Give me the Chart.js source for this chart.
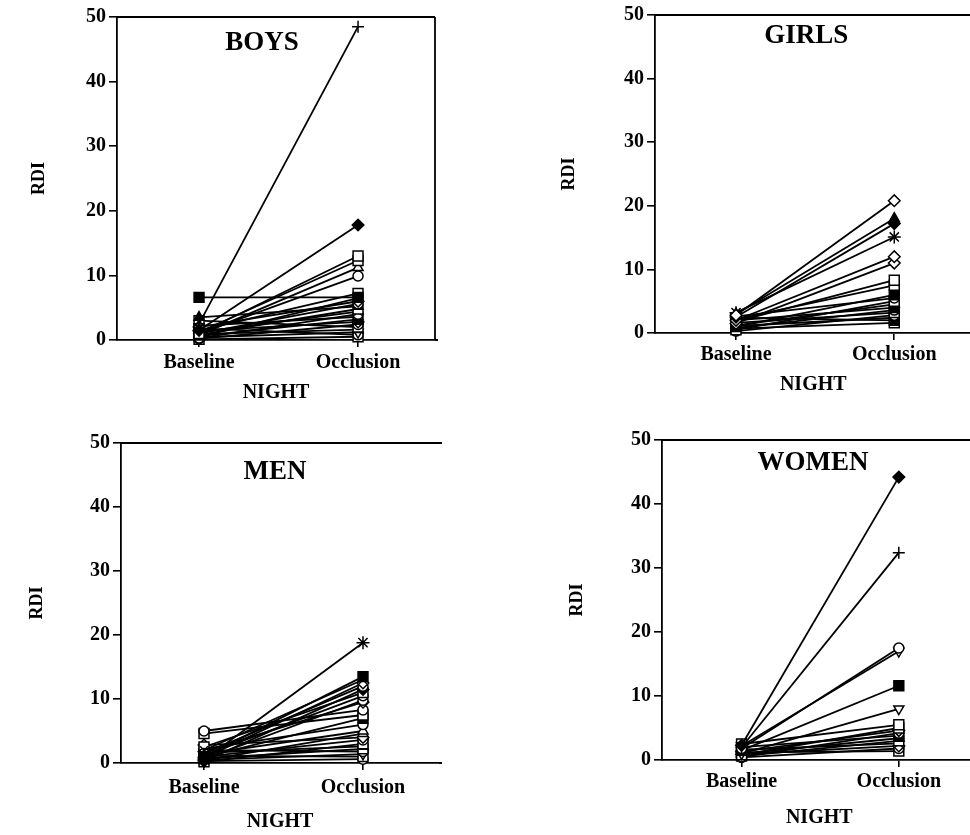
<!DOCTYPE html>
<html>
<head>
<meta charset="utf-8">
<script src="https://cdn.jsdelivr.net/npm/chart.js@4.4.0/dist/chart.umd.min.js"></script>
<style>
html,body{margin:0;padding:0;background:#fff;overflow:hidden;width:970px;height:835px;position:relative;}
.panel{position:absolute;}
canvas{display:block;}
</style>
</head>
<body>
<div class="panel" style="left:0px;top:0px;"><canvas id="c0" width="450" height="410"></canvas></div>
<div class="panel" style="left:530px;top:0px;"><canvas id="c1" width="450" height="410"></canvas></div>
<div class="panel" style="left:0px;top:425px;"><canvas id="c2" width="450" height="410"></canvas></div>
<div class="panel" style="left:530px;top:425px;"><canvas id="c3" width="455" height="410"></canvas></div>
<script>
// ---------- DATA ----------
const nightLabels = ['Baseline', 'Occlusion'];
const nightPositions = [0, 1];
const rdiTicks = [0, 10, 20, 30, 40, 50];
const panelTitles = ['BOYS', 'GIRLS', 'MEN', 'WOMEN'];
const axisTitleX = 'NIGHT';
const axisTitleY = 'RDI';

const boysBaseline  = [2.5, 1.5, 1.0, 1.2, 0.8, 1.0, 6.6, 1.5, 0.5, 2.0, 1.0, 3.5, 0.8, 1.2, 0.3, 2.2, 0.6, 1.4, 0.2, 3.0, 0.9, 0.4, 1.8, 0.1];
const boysOcclusion = [48.5, 17.8, 13.0, 12.3, 11.2, 9.9, 6.6, 7.2, 6.5, 6.0, 5.6, 5.2, 4.8, 4.4, 4.0, 3.6, 3.2, 2.8, 2.4, 2.0, 1.6, 1.2, 0.8, 0.5];
const boysMarkers   = ['+', 'D', 's', 's', 't', 'o', 'S', 's', 'T', 'd', 'o', 'T', 's', 'x', 'o', 't', 'S', 'd', 'o', 's', 't', 'v', 'o', 's'];

const girlsBaseline  = [2.8, 3.0, 2.5, 3.2, 2.0, 1.5, 1.8, 2.2, 1.0, 2.6, 0.5, 1.2, 2.0, 0.8, 1.6, 0.3, 1.1, 2.4, 0.7];
const girlsOcclusion = [20.8, 18.0, 17.2, 15.1, 12.0, 11.0, 8.3, 7.5, 6.0, 5.5, 5.0, 4.5, 4.0, 3.6, 3.2, 2.8, 2.4, 2.0, 1.6];
const girlsMarkers   = ['d', 'T', 'D', '*', 'd', 'd', 's', 's', 'S', 'o', 's', 't', 'S', 'o', 's', 'o', 'x', 'S', 's'];

const menBaseline  = [0.5, 1.0, 2.0, 0.8, 1.5, 0.3, 2.5, 1.2, 0.6, 1.8, 5.0, 4.6, 0.9, 2.2, 1.4, 0.4, 2.8, 1.0, 0.2, 1.6, 0.7, 2.0, 0.5, 1.1, 0.3];
const menOcclusion = [18.8, 13.5, 13.0, 12.5, 12.0, 11.5, 11.0, 10.5, 9.8, 9.5, 8.3, 7.5, 7.0, 6.0, 5.0, 4.6, 4.0, 3.6, 3.0, 2.6, 2.2, 1.8, 1.4, 1.0, 0.6];
const menMarkers   = ['*', 'S', 'x', 'd', 'o', 'D', 's', 'o', 'o', 'd', 'o', 's', 'S', 'o', 't', 't', 'd', 'o', 's', 'T', 's', 'o', 'v', 's', 'o'];

const womenBaseline  = [2.3, 2.0, 1.8, 2.2, 1.5, 1.0, 2.5, 0.8, 1.3, 0.5, 2.0, 1.0, 0.6, 1.6, 0.9, 0.4, 1.2];
const womenOcclusion = [44.2, 32.4, 17.5, 17.0, 11.6, 8.0, 5.5, 5.0, 4.6, 4.2, 3.8, 3.4, 3.0, 2.6, 2.2, 1.8, 1.4];
const womenMarkers   = ['D', '+', 'o', 'v', 'S', 'v', 's', 's', 'd', 'o', 'S', 't', 's', 'x', 'd', 'o', 's'];

// ---------- STYLE / LAYOUT ----------
const FONT = 'Liberation Serif, Times New Roman, serif';
Chart.defaults.font.family = FONT;
Chart.defaults.color = '#000';

const markerMap = {
  'o': {style: 'circle',   fill: false, r: 5.0, rot: 0},
  's': {style: 'rect',     fill: false, r: 7.0, rot: 0},
  'S': {style: 'rect',     fill: true,  r: 7.0, rot: 0},
  'd': {style: 'rectRot',  fill: false, r: 5.8, rot: 0},
  'D': {style: 'rectRot',  fill: true,  r: 5.8, rot: 0},
  't': {style: 'triangle', fill: false, r: 5.8, rot: 0},
  'T': {style: 'triangle', fill: true,  r: 5.8, rot: 0},
  'v': {style: 'triangle', fill: false, r: 5.8, rot: 180},
  '+': {style: 'cross',    fill: false, r: 6.0, rot: 0},
  'x': {style: 'crossRot', fill: false, r: 5.5, rot: 0},
  '*': {style: 'star',     fill: false, r: 6.5, rot: 0}
};

const panelLayouts = [
  {canvas: 'c0', base: boysBaseline,  occ: boysOcclusion,  marks: boysMarkers,  w: 450, h: 410,
   padTop: 17, padRight: 15, yWidth: 117, xHeight: 70, xMin: -0.516, xMax: 1.484,
   tickPad: 4, xTitlePad: 5, yTitlePad: 29, titleFx: 0.456, titleDy: 26, frameRight: true, topEnd: null, bottomExt: 3},
  {canvas: 'c1', base: girlsBaseline, occ: girlsOcclusion, marks: girlsMarkers, w: 450, h: 410,
   padTop: 14, padRight: 1, yWidth: 125, xHeight: 77, xMin: -0.512, xMax: 1.488,
   tickPad: 3, xTitlePad: 13, yTitlePad: 29, titleFx: 0.478, titleDy: 21, frameRight: false, topEnd: 450, bottomExt: 0},
  {canvas: 'c2', base: menBaseline,   occ: menOcclusion,   marks: menMarkers,   w: 450, h: 410,
   padTop: 18, padRight: 11, yWidth: 121, xHeight: 72, xMin: -0.522, xMax: 1.478,
   tickPad: 6, xTitlePad: 1, yTitlePad: 27, titleFx: 0.484, titleDy: 29, frameRight: false, topEnd: 442, bottomExt: 3},
  {canvas: 'c3', base: womenBaseline, occ: womenOcclusion, marks: womenMarkers, w: 455, h: 410,
   padTop: 15, padRight: 3, yWidth: 132, xHeight: 75, xMin: -0.506, xMax: 1.494,
   tickPad: 3, xTitlePad: 5, yTitlePad: 37, titleFx: 0.48, titleDy: 23, frameRight: false, topEnd: 455, bottomExt: 0}
];

const framePlugin = {
  id: 'frame',
  afterDraw(chart, args, opts) {
    const {ctx, chartArea: a} = chart;
    ctx.save();
    ctx.strokeStyle = '#000';
    ctx.lineWidth = 1.8;
    ctx.beginPath();
    ctx.moveTo(a.left, a.top);
    ctx.lineTo(opts.topEnd != null ? opts.topEnd : a.right, a.top);
    if (opts.frameRight) {
      ctx.moveTo(a.right, a.top);
      ctx.lineTo(a.right, a.bottom);
    }
    if (opts.bottomExt) {
      ctx.moveTo(a.right, a.bottom);
      ctx.lineTo(a.right + opts.bottomExt, a.bottom);
    }
    ctx.stroke();
    // panel title
    ctx.fillStyle = '#000';
    ctx.font = 'bold 27px ' + FONT;
    ctx.textAlign = 'center';
    ctx.textBaseline = 'middle';
    ctx.fillText(opts.text, a.left + (a.right - a.left) * opts.fx, a.top + opts.dy);
    ctx.restore();
  }
};

panelLayouts.forEach((p, idx) => {
  const datasets = p.base.map((b, i) => {
    const m = markerMap[p.marks[i]];
    return {
      data: [{x: nightPositions[0], y: b}, {x: nightPositions[1], y: p.occ[i]}],
      borderColor: '#000',
      borderWidth: 1.8,
      pointStyle: m.style,
      pointRadius: m.r,
      pointRotation: m.rot,
      pointBorderWidth: 1.5,
      pointBorderColor: '#000',
      pointBackgroundColor: m.fill ? '#000' : '#fff',
      clip: false,
      tension: 0,
      fill: false
    };
  });

  new Chart(document.getElementById(p.canvas), {
    type: 'line',
    data: {datasets},
    plugins: [framePlugin],
    options: {
      responsive: false,
      animation: false,
      devicePixelRatio: 1,
      events: [],
      layout: {padding: {top: p.padTop, right: p.padRight, left: 0, bottom: 0}},
      plugins: {
        legend: {display: false},
        tooltip: {enabled: false},
        frame: {text: panelTitles[idx], fx: p.titleFx, dy: p.titleDy, frameRight: p.frameRight, topEnd: p.topEnd, bottomExt: p.bottomExt}
      },
      scales: {
        x: {
          type: 'linear',
          min: p.xMin,
          max: p.xMax,
          afterBuildTicks: s => { s.ticks = nightPositions.map(v => ({value: v})); },
          afterFit: s => { s.height = p.xHeight; },
          ticks: {
            autoSkip: false,
            maxRotation: 0,
            padding: p.tickPad,
            font: {size: 20, weight: 'bold'},
            color: '#000',
            callback: v => { const k = nightPositions.indexOf(v); return k >= 0 ? nightLabels[k] : ''; }
          },
          grid: {display: true, drawOnChartArea: false, drawTicks: true, tickLength: 7, color: '#000', lineWidth: 1.6},
          border: {display: true, color: '#000', width: 1.8},
          title: {display: true, text: axisTitleX, font: {size: 20, weight: 'bold'}, color: '#000', padding: {top: 0, bottom: p.xTitlePad}}
        },
        y: {
          type: 'linear',
          min: 0,
          max: 50,
          afterBuildTicks: s => { s.ticks = rdiTicks.map(v => ({value: v})); },
          afterFit: s => { s.width = p.yWidth; },
          ticks: {font: {size: 20, weight: 'bold'}, color: '#000', padding: 3},
          grid: {display: true, drawOnChartArea: false, drawTicks: true, tickLength: 8, color: '#000', lineWidth: 1.6},
          border: {display: true, color: '#000', width: 1.8},
          title: {display: true, text: axisTitleY, font: {size: 18, weight: 'bold'}, color: '#000', padding: {top: p.yTitlePad, bottom: 0}}
        }
      }
    }
  });
});
</script>
</body>
</html>
